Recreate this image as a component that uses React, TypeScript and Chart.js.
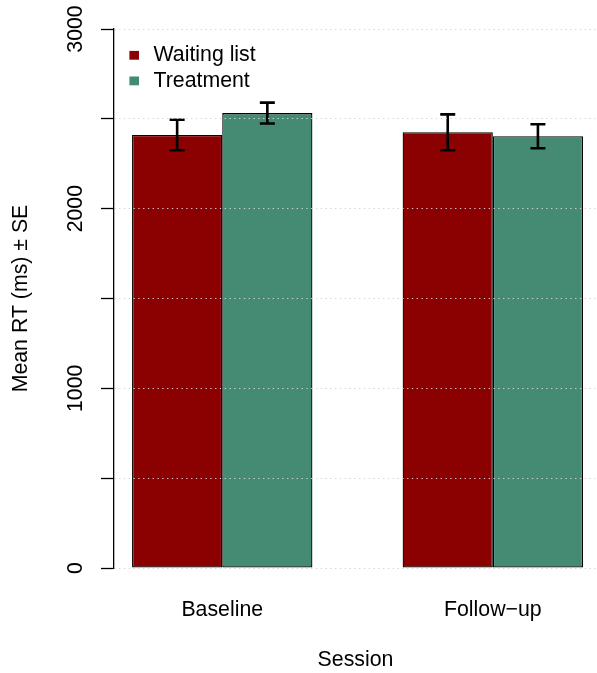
import React, { useEffect, useRef } from 'react';
import { Chart, registerables } from 'chart.js';

Chart.register(...registerables);

// ---- data ----
const sessions = ['Baseline', 'Follow\u2212up'];
const groupNames = ['Waiting list', 'Treatment'];
const waitingMeans = [2410, 2425];
const treatmentMeans = [2532, 2403];
const waitingSE = [85, 100];
const treatmentSE = [58, 67];
const yTickValues = [0, 500, 1000, 1500, 2000, 2500, 3000];
const yTickLabels = ['0', '', '1000', '', '2000', '', '3000'];
const groupColors = ['#8B0000', '#458B74'];

const seriesMeans = [waitingMeans, treatmentMeans];
const seriesSE = [waitingSE, treatmentSE];

const FONT_FAMILY = '"Liberation Sans", Arial, Helvetica, sans-serif';
const FONT_SIZE = 21.3;

const errorBarPlugin = {
  id: 'errorBars',
  afterDatasetsDraw(chart: any) {
    const ctx = chart.ctx;
    const yScale = chart.scales.y;
    ctx.save();
    ctx.strokeStyle = '#000';
    ctx.lineWidth = 2.6;
    chart.data.datasets.forEach((ds: any, di: number) => {
      const meta = chart.getDatasetMeta(di);
      meta.data.forEach((bar: any, i: number) => {
        const m = ds.data[i];
        const se = seriesSE[di][i];
        const x = bar.x;
        const yTop = yScale.getPixelForValue(m + se);
        const yBot = yScale.getPixelForValue(m - se);
        const hw = 7.5;
        ctx.beginPath();
        ctx.moveTo(x, yTop);
        ctx.lineTo(x, yBot);
        ctx.moveTo(x - hw, yTop);
        ctx.lineTo(x + hw, yTop);
        ctx.moveTo(x - hw, yBot);
        ctx.lineTo(x + hw, yBot);
        ctx.stroke();
      });
    });
    ctx.restore();
  },
};

const innerLegendPlugin = {
  id: 'innerLegend',
  afterDraw(chart: any) {
    const ctx = chart.ctx;
    const { left, top } = chart.chartArea;
    ctx.save();
    ctx.font = `${FONT_SIZE}px ${FONT_FAMILY}`;
    ctx.textBaseline = 'middle';
    ctx.textAlign = 'left';
    chart.data.datasets.forEach((ds: any, i: number) => {
      const cy = top + 26.3 + i * 25.6;
      ctx.fillStyle = ds.backgroundColor;
      ctx.fillRect(left + 15.4, cy - 4.4, 9.6, 8.8);
      ctx.fillStyle = '#000';
      ctx.fillText(ds.label, left + 39.5, cy);
    });
    ctx.restore();
  },
};

export default function App() {
  const canvasRef = useRef<HTMLCanvasElement | null>(null);

  useEffect(() => {
    const canvas = canvasRef.current;
    if (!canvas) return;
    const font = { family: FONT_FAMILY, size: FONT_SIZE };
    const chart = new Chart(canvas, {
      type: 'bar',
      data: {
        labels: sessions,
        datasets: groupNames.map((name, i) => ({
          label: name,
          data: seriesMeans[i],
          backgroundColor: groupColors[i],
          borderColor: '#000',
          borderWidth: 1.3,
          borderSkipped: false,
          barPercentage: 1,
          categoryPercentage: 2 / 3,
        })),
      },
      options: {
        responsive: false,
        animation: false,
        events: [],
        layout: { padding: { top: 29, left: 0, right: 0, bottom: 0 } },
        plugins: {
          legend: { display: false },
          tooltip: { enabled: false },
        },
        scales: {
          x: {
            type: 'category',
            offset: false,
            grid: { display: false, drawTicks: false },
            border: { display: false },
            ticks: {
              font,
              color: '#000',
              padding: 29.3,
              maxRotation: 0,
              autoSkip: false,
            },
            title: {
              display: true,
              text: 'Session',
              font,
              color: '#000',
              padding: { top: 0, bottom: 0.1 },
            },
            afterBuildTicks: (s: any) => {
              s._startValue = -0.4;
              s._valueRange = 1.785;
            },
            afterFit: (s: any) => {
              s.height = 105;
            },
          },
          y: {
            type: 'linear',
            position: 'left',
            min: 0,
            max: 3000,
            grid: {
              z: 1,
              color: '#D3D3D3',
              lineWidth: 1,
              tickColor: '#000',
              tickLength: 13,
              tickWidth: 1.3,
              tickBorderDash: [],
            },
            border: { display: true, z: 2, color: '#000', width: 1.3, dash: [1.3, 3.5] },
            ticks: {
              font,
              color: '#000',
              padding: 1.4,
              minRotation: 90,
              maxRotation: 90,
              crossAlign: 'center',
              autoSkip: false,
              callback: (_v: any, i: number) => yTickLabels[i],
            },
            afterBuildTicks: (s: any) => {
              s.ticks = yTickValues.map((v) => ({ value: v }));
            },
            title: {
              display: true,
              text: 'Mean RT (ms) \u00b1 SE',
              font,
              color: '#000',
              padding: { top: 8.3, bottom: 0 },
            },
            afterFit: (s: any) => {
              s.width = 114;
            },
          },
        },
      } as any,
      plugins: [errorBarPlugin, innerLegendPlugin],
    });
    return () => chart.destroy();
  }, []);

  return (
    <div style={{ position: 'absolute', left: 0, top: 0, width: 597, height: 673, background: '#fff' }}>
      <canvas ref={canvasRef} width={597} height={673} style={{ display: 'block' }} />
    </div>
  );
}
